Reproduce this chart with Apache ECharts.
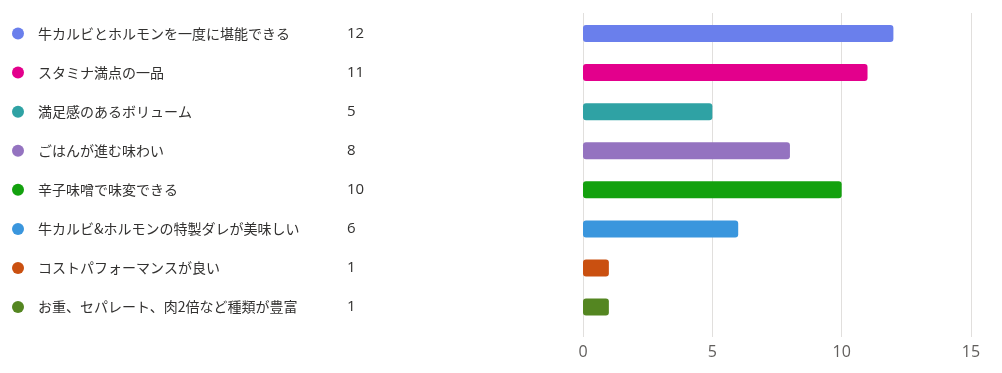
<!DOCTYPE html>
<html>
<head>
<meta charset="utf-8">
<script src="https://cdn.jsdelivr.net/npm/echarts@6/dist/echarts.min.js"></script>
<style>
html,body{margin:0;padding:0;background:#fff;}
#chart{width:1002px;height:373px;}
</style>
</head>
<body>
<div id="chart"></div>
<script>
const categories = [
  '牛カルビとホルモンを一度に堪能できる',
  'スタミナ満点の一品',
  '満足感のあるボリューム',
  'ごはんが進む味わい',
  '辛子味噌で味変できる',
  '牛カルビ&ホルモンの特製ダレが美味しい',
  'コストパフォーマンスが良い',
  'お重、セパレート、肉2倍など種類が豊富'
];
const counts = [12, 11, 5, 8, 10, 6, 1, 1];
const colors = ['#6a7fec', '#e3008c', '#2fa2a4', '#9473c0', '#13a10e', '#3a96dd', '#ca5010', '#548621'];
const xTicks = { min: 0, max: 15, interval: 5 };

const font = '"Noto Sans CJK JP", "Noto Sans", sans-serif';
const rich = {
  name: { width: 309, fontSize: 14, color: '#323130', fontFamily: font, align: 'left' },
  val: { fontSize: 15, color: '#323130', fontFamily: '"Open Sans", "Noto Sans", sans-serif', align: 'left' }
};
colors.forEach((c, i) => {
  rich['d' + i] = { width: 12, height: 12, borderRadius: 6, backgroundColor: c, padding: 0 };
});
rich.gap = { width: 14 };

const chart = echarts.init(document.getElementById('chart'), null, { renderer: 'canvas' });
chart.setOption({
  animation: false,
  grid: [
    { left: 583, right: 31, top: 14, height: 312.6, containLabel: false },
    { left: 583, right: 31, top: 13, height: 324, containLabel: false }
  ],
  xAxis: [
    { gridIndex: 0, type: 'value', min: xTicks.min, max: xTicks.max, interval: xTicks.interval,
      show: false, splitLine: { show: false } },
    { gridIndex: 1, type: 'value', min: xTicks.min, max: xTicks.max, interval: xTicks.interval,
      axisLine: { show: false }, axisTick: { show: false },
      splitLine: { show: true, lineStyle: { color: '#e1dfdd', width: 1 } },
      axisLabel: { color: '#605e5c', fontSize: 16, fontFamily: '"Open Sans", "Noto Sans", sans-serif', margin: 7 } }
  ],
  yAxis: [
    { gridIndex: 0, type: 'category', data: categories, inverse: true,
      axisLine: { show: false }, axisTick: { show: false }, splitLine: { show: false },
      axisLabel: {
        margin: 571, align: 'left',
        formatter: (v, i) => '{d' + i + '|}{gap|}{name|' + v + '}{val|' + counts[i] + '}',
        rich: rich
      } },
    { gridIndex: 1, type: 'category', data: [''], show: false }
  ],
  series: [{
    type: 'bar',
    xAxisIndex: 0, yAxisIndex: 0,
    data: counts.map((v, i) => ({ value: v, itemStyle: { color: colors[i] } })),
    barWidth: 17,
    itemStyle: { borderRadius: 3 },
    silent: true
  }]
});
</script>
</body>
</html>
